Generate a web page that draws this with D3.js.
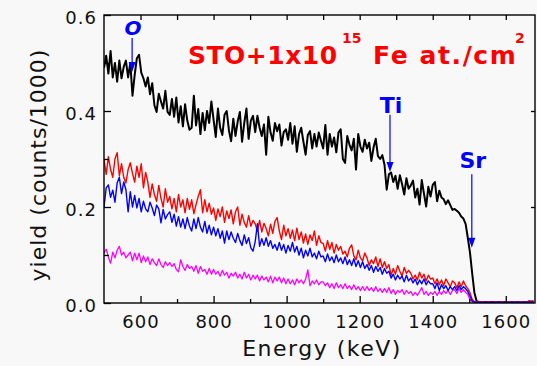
<!DOCTYPE html>
<html><head><meta charset="utf-8">
<script src="https://cdn.jsdelivr.net/npm/d3@7"></script>
<style>
html,body{margin:0;padding:0;background:#f8f8f8;}
svg{display:block;}
</style></head><body>
<svg id="chart" width="537" height="366"></svg>
<script>
// Channel energy calibration for the RBS spectra
const energyStart = 500; // keV at channel 0
const energyStep = 6;    // keV per channel

// Backscattering yield per channel (counts)
const blackCounts = [
490,515,478,525,470,500,461,505,468,492,
505,470,500,432,475,510,517,480,468,451,
470,435,458,412,398,436,420,405,442,398,
392,425,388,428,376,410,368,414,380,361,
365,432,370,404,352,396,360,400,375,420,
382,346,405,365,350,392,400,360,337,384,
348,378,398,336,375,405,342,380,390,356,
390,365,348,372,309,388,355,338,375,358,
372,328,356,362,340,375,332,368,315,352,
365,336,309,350,358,322,352,326,355,338,
322,371,309,352,326,345,314,355,362,300,
292,348,330,318,342,278,352,326,315,340,
322,334,296,324,342,306,300,308,288,236,
268,272,252,265,238,266,248,226,260,238,
245,255,220,238,205,256,228,201,242,222,
246,252,212,234,220,216,206,214,204,194,
196,192,188,180,176,165,136,105,62,22,
4,2,2,2,1,2,1,2,2,1,
2,2,1,2,2,1,2,1,2,2,
1,2,2,2,1,2,3];

const redCounts = [
299,268,305,278,262,300,313,265,290,262,
250,278,292,270,252,285,262,290,240,272,
252,220,248,226,212,245,218,200,238,210,
222,196,218,190,226,200,215,188,218,195,
215,186,205,222,236,188,215,190,208,185,
198,172,196,180,200,168,192,176,194,165,
190,200,162,185,168,158,182,160,172,165,
150,172,148,166,155,140,164,145,170,178,
150,132,162,140,155,135,152,130,156,132,
148,125,144,122,142,130,150,120,140,126,
124,108,130,112,126,104,122,110,118,102,
108,96,114,121,98,90,110,94,88,104,
94,78,90,82,96,76,92,74,86,72,
80,58,72,60,78,66,56,74,62,68,
62,50,58,48,64,52,60,46,58,50,
52,40,50,38,48,36,50,42,34,46,
42,32,44,34,46,36,30,21,8,3,
2,2,3,2,2,2,3,2,2,2,
2,3,2,2,2,3,2,2,2,3,
2,2,3,2,5,4,5];

const blueCounts = [
200,240,246,220,235,210,250,262,228,252,
236,190,232,200,224,198,218,190,212,196,
190,210,198,182,204,196,167,195,175,184,
190,168,185,160,180,158,175,155,178,160,
150,175,155,178,158,148,170,145,162,142,
158,140,155,135,150,125,150,132,148,135,
126,145,130,120,142,124,136,115,108,128,
165,118,134,120,136,118,130,114,122,110,
126,110,122,104,120,108,126,106,118,100,
114,94,110,98,114,96,104,92,108,96,
98,86,102,88,96,84,100,86,94,82,
96,80,90,78,92,76,88,74,86,72,
80,68,78,64,76,66,74,60,72,62,
66,52,60,48,58,50,56,44,58,46,
52,42,50,38,48,40,50,38,46,40,
40,30,42,26,38,30,36,26,34,28,
34,26,36,28,34,30,24,14,4,2,
1,2,1,1,2,1,1,2,1,1,
2,1,1,2,1,1,2,1,1,2,
1,1,2,1,2,2,2];

const magentaCounts = [
104,112,96,83,106,94,110,118,100,106,
94,100,106,88,104,90,104,84,98,86,
96,80,92,84,78,92,80,74,86,78,
84,76,82,70,65,90,76,68,80,72,
76,66,78,62,76,66,70,60,72,60,
70,60,66,56,68,58,64,52,62,56,
64,52,60,50,64,52,60,48,58,50,
58,46,56,48,54,44,56,42,54,46,
54,42,52,40,50,40,48,38,50,42,
48,40,50,69,36,46,40,48,38,44,
44,36,42,32,40,30,42,32,38,30,
40,30,36,28,38,28,34,26,34,26,
34,26,32,24,34,24,30,22,30,22,
32,20,28,18,26,22,28,18,26,20,
24,16,22,16,24,32,18,24,16,22,
18,24,16,24,18,26,20,26,18,26,
28,20,30,22,28,22,18,7,3,2,
1,1,1,2,1,1,1,1,2,1,
1,1,2,1,1,1,1,2,1,1,
1,1,1,2,1,1,1];

// Axis ticks
const xMajorTicks = [600, 800, 1000, 1200, 1400, 1600];
const xMinorTicks = [700, 900, 1100, 1300, 1500];
const xTopTicks = [600, 700, 800, 900, 1000, 1100, 1200, 1300, 1400, 1500, 1600];
const yMajorTicks = [0.0, 0.2, 0.4, 0.6];
const yMinorTicks = [0.1, 0.3, 0.5];
const yRightTicks = [0.2, 0.4];

// Surface edge markers: label, energy (keV), arrow start / tip (yield)
const edgeLabels = ["O", "Ti", "Sr"];
const edgeEnergies = [577, 1283, 1507];
const edgeArrowStart = [0.552, 0.392, 0.268];
const edgeArrowTip = [0.481, 0.273, 0.115];

const series = [
  {counts: blackCounts, color: "#000000", width: 2.0},
  {counts: magentaCounts, color: "#ff00ff", width: 1.3},
  {counts: redCounts, color: "#ff0000", width: 1.4},
  {counts: blueCounts, color: "#0000ff", width: 1.4}
];

const W = 537, H = 366;
const margin = {left: 104, right: 2, top: 15, bottom: 63};
const svg = d3.select("#chart");
svg.append("rect").attr("width", W).attr("height", H).attr("fill", "#f8f8f8");

const x = d3.scaleLinear().domain([500, 1680]).range([margin.left, W - margin.right]);
const y = d3.scaleLinear().domain([0, 0.6]).range([H - margin.bottom, margin.top]);

const font = "'Comic Sans MS', 'DejaVu Sans', sans-serif";

// clip for spectra
svg.append("clipPath").attr("id", "plotclip").append("rect")
  .attr("x", x.range()[0]).attr("y", y.range()[1])
  .attr("width", x.range()[1] - x.range()[0]).attr("height", y.range()[0] - y.range()[1]);

const line = d3.line()
  .x((d, i) => x(energyStart + i * energyStep))
  .y(d => y(d / 1000));

const plot = svg.append("g").attr("clip-path", "url(#plotclip)");
series.forEach(s => {
  plot.append("path").datum(s.counts)
    .attr("d", line)
    .attr("fill", "none")
    .attr("stroke", s.color)
    .attr("stroke-width", s.width)
    .attr("stroke-linejoin", "round");
});

// axes (ticks pointing inward)
function styleAxis(g) {
  g.select(".domain").remove();
  g.selectAll(".tick line").attr("stroke", "#000").attr("stroke-width", 1.3);
  g.selectAll(".tick text").attr("fill", "#111").attr("font-family", font)
    .attr("font-size", 18).attr("letter-spacing", 1);
}

svg.append("g").attr("transform", `translate(0,${y(0)})`)
  .call(d3.axisBottom(x).tickValues(xMajorTicks).tickSize(-7).tickPadding(12).tickFormat(d3.format("d")))
  .call(styleAxis);
svg.append("g").attr("transform", `translate(0,${y(0)})`)
  .call(d3.axisBottom(x).tickValues(xMinorTicks).tickSize(-4).tickFormat(""))
  .call(styleAxis);
svg.append("g").attr("transform", `translate(0,${y(0.6)})`)
  .call(d3.axisTop(x).tickValues(xTopTicks).tickSize(-5).tickFormat(""))
  .call(styleAxis);

const yAxisG = svg.append("g").attr("transform", `translate(${x(500)},0)`)
  .call(d3.axisLeft(y).tickValues(yMajorTicks).tickSize(-7).tickPadding(7).tickFormat(d3.format(".1f")))
  .call(styleAxis);
yAxisG.selectAll(".tick text").attr("dy", "0.47em");
svg.append("g").attr("transform", `translate(${x(500)},0)`)
  .call(d3.axisLeft(y).tickValues(yMinorTicks).tickSize(-5).tickFormat(""))
  .call(styleAxis);
svg.append("g").attr("transform", `translate(${x(1680)},0)`)
  .call(d3.axisRight(y).tickValues(yRightTicks).tickSize(-4).tickFormat(""))
  .call(styleAxis);

// frame
svg.append("rect")
  .attr("x", x(500)).attr("y", y(0.6))
  .attr("width", x(1680) - x(500)).attr("height", y(0) - y(0.6))
  .attr("fill", "none").attr("stroke", "#000").attr("stroke-width", 1.4);

// edge arrows and labels
const edgeLabelGap = [3, 2, 6];
const edgeFontSize = [20, 22, 22];
edgeLabels.forEach((lab, i) => {
  const ex = x(edgeEnergies[i]);
  const y0 = y(edgeArrowStart[i]), y1 = y(edgeArrowTip[i]);
  svg.append("line").attr("x1", ex).attr("x2", ex).attr("y1", y0).attr("y2", y1 - 6)
    .attr("stroke", "#0000ff").attr("stroke-width", 1.2);
  svg.append("path")
    .attr("d", `M${ex - 3.5},${y1 - 10}L${ex + 3.5},${y1 - 10}L${ex},${y1}Z`)
    .attr("fill", "#0000ff");
  svg.append("text").attr("x", ex + 1).attr("y", y0 - edgeLabelGap[i])
    .attr("text-anchor", "middle")
    .attr("font-family", font).attr("font-weight", "bold")
    .attr("font-style", lab === "O" ? "italic" : "normal")
    .attr("font-size", edgeFontSize[i]).attr("fill", "#0000ff")
    .text(lab);
});

// sample title
const title = svg.append("text").attr("x", 188).attr("y", 64)
  .attr("font-family", font).attr("font-weight", "bold")
  .attr("font-size", 25).attr("fill", "#ff0000");
title.append("tspan").attr("letter-spacing", 0.5).text("STO+1x10");
title.append("tspan").attr("x", 342).attr("y", 43).attr("font-size", 14).text("15");
title.append("tspan").attr("x", 373).attr("y", 64).attr("letter-spacing", 1.6).text("Fe at./cm");
title.append("tspan").attr("x", 515).attr("y", 43).attr("font-size", 14).text("2");

// axis titles
svg.append("text").attr("x", 322).attr("y", 356).attr("text-anchor", "middle")
  .attr("font-family", font).attr("font-size", 22).attr("letter-spacing", 1.5)
  .attr("fill", "#111").text("Energy (keV)");
svg.append("text").attr("transform", "translate(46,165) rotate(-90)")
  .attr("text-anchor", "middle")
  .attr("font-family", font).attr("font-size", 22).attr("letter-spacing", 1)
  .attr("fill", "#111").text("yield (counts/1000)");
</script>
</body></html>
